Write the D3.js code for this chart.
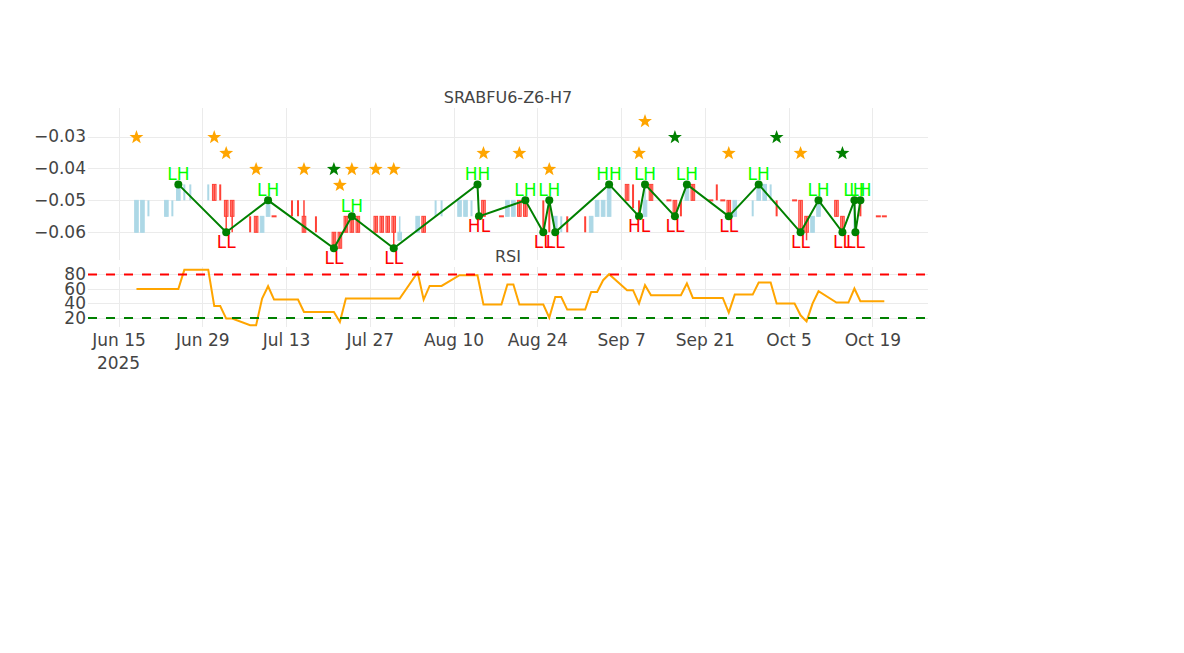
<!DOCTYPE html>
<html><head><meta charset="utf-8">
<script src="https://cdn.jsdelivr.net/npm/d3@7"></script>
<style>
body{margin:0;background:#fff}
svg{display:block}
text{font-family:"DejaVu Sans",Verdana,sans-serif}
</style>
</head><body>
<svg id="chart" width="1184" height="653"></svg>
<script>
// ---------- DATA ----------
const chartTitle = "SRABFU6-Z6-H7";
const rsiTitle = "RSI";

const candleDates = ["2025-06-18","2025-06-19","2025-06-20","2025-06-23","2025-06-24","2025-06-25","2025-06-26","2025-06-27",
"2025-06-30","2025-07-01","2025-07-02","2025-07-03","2025-07-04","2025-07-07","2025-07-08","2025-07-09","2025-07-10","2025-07-11",
"2025-07-14","2025-07-15","2025-07-16","2025-07-18","2025-07-21","2025-07-22","2025-07-23","2025-07-24","2025-07-25",
"2025-07-28","2025-07-29","2025-07-30","2025-07-31","2025-08-01","2025-08-04","2025-08-05","2025-08-07","2025-08-08",
"2025-08-11","2025-08-12","2025-08-13","2025-08-15","2025-08-18","2025-08-19","2025-08-20","2025-08-21","2025-08-22",
"2025-08-25","2025-08-26","2025-08-27","2025-08-28","2025-08-29","2025-09-01","2025-09-02","2025-09-03","2025-09-04","2025-09-05",
"2025-09-08","2025-09-09","2025-09-10","2025-09-11","2025-09-12","2025-09-15","2025-09-16","2025-09-17","2025-09-18","2025-09-19",
"2025-09-22","2025-09-23","2025-09-24","2025-09-25","2025-09-26","2025-09-29","2025-09-30","2025-10-01","2025-10-02","2025-10-03",
"2025-10-06","2025-10-07","2025-10-08","2025-10-09","2025-10-10","2025-10-13","2025-10-14","2025-10-16","2025-10-17",
"2025-10-20","2025-10-21"];
const candleOpen = [-0.06,-0.06,-0.05,-0.055,-0.05,-0.05,-0.045,-0.045,
-0.045,-0.045,-0.045,-0.05,-0.05,-0.055,-0.055,-0.06,-0.055,-0.055,
-0.05,-0.05,-0.055,-0.055,-0.06,-0.06,-0.055,-0.055,-0.055,
-0.055,-0.055,-0.055,-0.055,-0.0625,-0.06,-0.055,-0.05,-0.05,
-0.055,-0.055,-0.05,-0.05,-0.055,-0.055,-0.055,-0.05,-0.05,
-0.05,-0.05,-0.06,-0.055,-0.055,-0.055,-0.06,-0.055,-0.055,-0.055,
-0.045,-0.045,-0.05,-0.055,-0.045,-0.05,-0.05,-0.05,-0.05,-0.045,
-0.05,-0.045,-0.05,-0.05,-0.055,-0.05,-0.05,-0.05,-0.045,-0.05,
-0.05,-0.05,-0.055,-0.06,-0.055,-0.05,-0.055,-0.05,-0.05,
-0.055,-0.055];
const candleHigh = [-0.05,-0.05,-0.05,-0.05,-0.05,-0.045,-0.045,-0.045,
-0.045,-0.045,-0.045,-0.05,-0.05,-0.055,-0.055,-0.055,-0.05,-0.055,
-0.05,-0.05,-0.05,-0.055,-0.06,-0.06,-0.055,-0.055,-0.055,
-0.055,-0.055,-0.055,-0.055,-0.055,-0.055,-0.055,-0.05,-0.05,
-0.05,-0.05,-0.05,-0.05,-0.055,-0.05,-0.05,-0.05,-0.05,
-0.05,-0.05,-0.055,-0.055,-0.055,-0.055,-0.055,-0.05,-0.05,-0.045,
-0.045,-0.045,-0.05,-0.045,-0.045,-0.05,-0.05,-0.05,-0.045,-0.045,
-0.05,-0.045,-0.05,-0.05,-0.05,-0.05,-0.045,-0.045,-0.045,-0.05,
-0.05,-0.05,-0.055,-0.055,-0.05,-0.05,-0.055,-0.05,-0.05,
-0.055,-0.055];
const candleLow = [-0.06,-0.06,-0.055,-0.055,-0.055,-0.05,-0.05,-0.05,
-0.05,-0.05,-0.05,-0.06,-0.06,-0.06,-0.06,-0.06,-0.055,-0.055,
-0.055,-0.055,-0.06,-0.06,-0.065,-0.065,-0.06,-0.06,-0.06,
-0.06,-0.06,-0.06,-0.065,-0.0625,-0.06,-0.06,-0.055,-0.055,
-0.055,-0.055,-0.055,-0.055,-0.055,-0.055,-0.055,-0.055,-0.055,
-0.06,-0.06,-0.06,-0.06,-0.06,-0.06,-0.06,-0.055,-0.055,-0.055,
-0.05,-0.0525,-0.055,-0.055,-0.05,-0.05,-0.055,-0.055,-0.05,-0.05,
-0.05,-0.05,-0.05,-0.055,-0.055,-0.055,-0.05,-0.05,-0.05,-0.055,
-0.05,-0.06,-0.0625,-0.06,-0.055,-0.055,-0.06,-0.06,-0.055,
-0.055,-0.055];
const candleClose = [-0.05,-0.05,-0.05,-0.05,-0.05,-0.045,-0.045,-0.045,
-0.045,-0.05,-0.045,-0.055,-0.055,-0.055,-0.06,-0.055,-0.05,-0.055,
-0.05,-0.05,-0.06,-0.055,-0.065,-0.065,-0.06,-0.06,-0.06,
-0.06,-0.06,-0.06,-0.06,-0.06,-0.055,-0.06,-0.05,-0.05,
-0.05,-0.05,-0.05,-0.055,-0.055,-0.05,-0.05,-0.055,-0.055,
-0.05,-0.05,-0.055,-0.055,-0.055,-0.055,-0.055,-0.05,-0.05,-0.045,
-0.05,-0.045,-0.05,-0.05,-0.05,-0.05,-0.055,-0.05,-0.045,-0.05,
-0.05,-0.045,-0.05,-0.055,-0.05,-0.05,-0.045,-0.045,-0.045,-0.05,
-0.05,-0.06,-0.06,-0.055,-0.05,-0.055,-0.06,-0.05,-0.05,
-0.055,-0.055];
const candleDir = ["up","up","up","up","up","up","up","up",
"up","down","down","down","down","down","down","up","up","down",
"down","down","down","down","down","down","down","down","down",
"down","down","down","down","up","up","down","up","up",
"up","up","up","down","down","up","up","down","down",
"down","down","up","up","down","down","up","up","up","up",
"down","down","down","up","down","down","down","down","up","down",
"down","down","down","down","up","up","up","up","up","down",
"down","down","down","up","up","down","down","up","down",
"down","down"];

const pivotDates = ["2025-06-25","2025-07-03","2025-07-10","2025-07-21","2025-07-24","2025-07-31","2025-08-14","2025-08-14T06:00",
"2025-08-22","2025-08-25","2025-08-26","2025-08-27","2025-09-05","2025-09-10","2025-09-11","2025-09-16","2025-09-18","2025-09-25",
"2025-09-30","2025-10-07","2025-10-10","2025-10-14","2025-10-16","2025-10-16T04:00","2025-10-17"];
const pivotValues = [-0.045,-0.06,-0.05,-0.065,-0.055,-0.065,-0.045,-0.055,
-0.05,-0.06,-0.05,-0.06,-0.045,-0.055,-0.045,-0.055,-0.045,-0.055,
-0.045,-0.06,-0.05,-0.06,-0.05,-0.06,-0.05];
const pivotLabels = ["LH","LL","LH","LL","LH","LL","HH","HL",
"LH","LL","LH","LL","HH","HL","LH","LL","LH","LL",
"LH","LL","LH","LL","LH","LL","LH"];

const starDates = ["2025-06-18","2025-07-01","2025-07-03","2025-07-08","2025-07-16","2025-07-21","2025-07-22","2025-07-24",
"2025-07-28","2025-07-31","2025-08-15","2025-08-21","2025-08-26","2025-09-10","2025-09-11","2025-09-16","2025-09-25",
"2025-10-03","2025-10-07","2025-10-14"];
const starValues = [-0.03,-0.03,-0.035,-0.04,-0.04,-0.04,-0.045,-0.04,
-0.04,-0.04,-0.035,-0.035,-0.04,-0.035,-0.025,-0.03,-0.035,
-0.03,-0.035,-0.035];
const starKinds = ["orange","orange","orange","orange","orange","green","orange","orange",
"orange","orange","orange","orange","orange","orange","orange","green","orange",
"green","orange","green"];

const rsiDates = ["2025-06-18","2025-06-19","2025-06-20","2025-06-23","2025-06-24","2025-06-25","2025-06-26","2025-06-27",
"2025-06-30","2025-07-01","2025-07-02","2025-07-03","2025-07-04","2025-07-07","2025-07-08","2025-07-09","2025-07-10","2025-07-11",
"2025-07-14","2025-07-15","2025-07-16","2025-07-17","2025-07-18","2025-07-21","2025-07-22","2025-07-23","2025-07-24","2025-07-25",
"2025-07-28","2025-07-29","2025-07-30","2025-07-31","2025-08-01","2025-08-04","2025-08-05","2025-08-06","2025-08-07","2025-08-08",
"2025-08-11","2025-08-12","2025-08-13","2025-08-14","2025-08-15","2025-08-18","2025-08-19","2025-08-20","2025-08-21","2025-08-22",
"2025-08-25","2025-08-26","2025-08-27","2025-08-28","2025-08-29","2025-09-01","2025-09-02","2025-09-03","2025-09-04","2025-09-05",
"2025-09-08","2025-09-09","2025-09-10","2025-09-11","2025-09-12","2025-09-15","2025-09-16","2025-09-17","2025-09-18","2025-09-19",
"2025-09-22","2025-09-23","2025-09-24","2025-09-25","2025-09-26","2025-09-29","2025-09-30","2025-10-01","2025-10-02","2025-10-03",
"2025-10-06","2025-10-07","2025-10-08","2025-10-09","2025-10-10","2025-10-13","2025-10-14","2025-10-15","2025-10-16","2025-10-17",
"2025-10-20","2025-10-21"];
const rsiValues = [60,60,60,60,60,60,86.4,86.4,
86.4,36.6,36.6,19.2,19.2,10,10,46.8,63.8,45.4,
45.4,45.4,28.3,28.3,28.3,28.3,14.5,46.8,46.8,46.8,
46.8,46.8,46.8,46.8,46.8,82.8,45.4,64.2,64.2,64.2,
79,79,79,79,38.5,38.5,66.2,66.2,38.5,38.5,
38.5,20.5,49,49,31.6,31.6,56,56,72.1,80.4,
58.3,58.3,39.9,65.2,51.4,51.4,51.4,51.4,67.6,47.6,
47.6,47.6,47.6,27.5,52.3,52.3,68.9,68.9,68.9,39.9,
39.9,23.7,15.4,39.9,56.9,41.3,41.3,41.3,60.6,43.1,
43.1,43.1];

const priceTicks = [-0.06,-0.05,-0.04,-0.03];
const rsiTicks = [20,40,60,80];
const rsiOverbought = 80, rsiOversold = 20;
const xTickDates = ["2025-06-15","2025-06-29","2025-07-13","2025-07-27","2025-08-10","2025-08-24","2025-09-07","2025-09-21","2025-10-05","2025-10-19"];

// ---------- LAYOUT ----------
const P = s => new Date((s.length > 10 ? s : s + "T00:00") + ":00Z");
const svg = d3.select("#chart");
const L = 88, R = 928;
const topY0 = 108, topY1 = 260, rsiY0 = 267, rsiY1 = 327;
const DAY = 864e5;
const base = Date.UTC(2025, 5, 15);
const x = d3.scaleUtc().domain([new Date(base - 5.1 * DAY), new Date(base + 135.3 * DAY)]).range([L, R]);
const yP = d3.scaleLinear().domain([-0.06868, -0.02107]).range([topY1, topY0]);
const yR = d3.scaleLinear().domain([7.6, 90.3]).range([rsiY1, rsiY0]);
const FS = 17, GRID = "#ebebeb", TXT = "#444";

// gridlines
const g = svg.append("g");
xTickDates.forEach(d => {
  const xx = Math.round(x(P(d))) + 0.5;
  g.append("line").attr("x1", xx).attr("x2", xx).attr("y1", topY0).attr("y2", topY1).attr("stroke", GRID);
  g.append("line").attr("x1", xx).attr("x2", xx).attr("y1", rsiY0).attr("y2", rsiY1).attr("stroke", GRID);
});
priceTicks.forEach(v => {
  const yy = Math.round(yP(v)) + 0.5;
  g.append("line").attr("x1", L).attr("x2", R).attr("y1", yy).attr("y2", yy).attr("stroke", GRID);
});
rsiTicks.forEach(v => {
  const yy = Math.round(yR(v)) + 0.5;
  g.append("line").attr("x1", L).attr("x2", R).attr("y1", yy).attr("y2", yy).attr("stroke", GRID);
});

// axes
const ay = svg.append("g").attr("transform", `translate(${L - 2},0)`)
  .call(d3.axisLeft(yP).tickValues(priceTicks).tickFormat(d3.format(".2f")).tickSize(0).tickPadding(0));
const ar = svg.append("g").attr("transform", `translate(${L - 2},0)`)
  .call(d3.axisLeft(yR).tickValues(rsiTicks).tickSize(0).tickPadding(0));
const ax = svg.append("g").attr("transform", `translate(0,${rsiY1})`)
  .call(d3.axisBottom(x).tickValues(xTickDates.map(P)).tickFormat(d3.utcFormat("%b %-d")).tickSize(0).tickPadding(7));
[ay, ar, ax].forEach(a => {
  a.select(".domain").remove();
  a.selectAll("text").attr("font-size", FS).attr("fill", TXT).attr("font-family", '"DejaVu Sans",Verdana,sans-serif');
});
svg.append("text").attr("x", x(P(xTickDates[0]))).attr("y", 368.5).attr("text-anchor", "middle")
  .attr("font-size", FS).attr("fill", TXT).text("2025");

// candles
const cg = svg.append("g");
candleDates.forEach((d, i) => {
  const cx = x(P(d));
  const o = candleOpen[i], h = candleHigh[i], l = candleLow[i], c = candleClose[i];
  const up = candleDir[i] === "up";
  const stroke = up ? "#ADD8E6" : "#FF4136";
  const fill = up ? "#ADD8E6" : "rgba(255,65,54,0.5)";
  if (h === l) {
    cg.append("line").attr("x1", cx - 2.5).attr("x2", cx + 2.5).attr("y1", yP(h)).attr("y2", yP(h))
      .attr("stroke", stroke).attr("stroke-width", 2);
  } else if (o === c) {
    cg.append("line").attr("x1", cx).attr("x2", cx).attr("y1", yP(h)).attr("y2", yP(l))
      .attr("stroke", stroke).attr("stroke-width", 2);
  } else {
    cg.append("line").attr("x1", cx).attr("x2", cx).attr("y1", yP(h)).attr("y2", yP(l))
      .attr("stroke", stroke).attr("stroke-width", 1.5);
    const yt = yP(Math.max(o, c)), yb = yP(Math.min(o, c));
    cg.append("rect").attr("x", cx - 1.8).attr("width", 3.6).attr("y", yt).attr("height", yb - yt)
      .attr("fill", fill).attr("stroke", stroke).attr("stroke-width", 1);
  }
});

// zigzag
const piv = pivotDates.map((d, i) => ({ t: P(d), v: pivotValues[i], lab: pivotLabels[i] }));
svg.append("path").datum(piv).attr("fill", "none").attr("stroke", "green").attr("stroke-width", 2)
  .attr("d", d3.line().x(p => x(p.t)).y(p => yP(p.v)));
svg.append("g").selectAll("circle").data(piv).join("circle")
  .attr("cx", p => x(p.t)).attr("cy", p => yP(p.v)).attr("r", 4).attr("fill", "green");
svg.append("g").selectAll("text").data(piv).join("text")
  .attr("x", p => x(p.t))
  .attr("y", p => p.lab[1] === "H" ? yP(p.v) - 4.5 : yP(p.v) + 15.5)
  .attr("text-anchor", "middle").attr("font-size", FS)
  .attr("fill", p => p.lab[1] === "H" ? "#00ff00" : "#ff0000")
  .text(p => p.lab);

// stars
function starPath(R1, R2) {
  const pts = [];
  for (let k = 0; k < 10; k++) {
    const a = -Math.PI / 2 + k * Math.PI / 5;
    const r = k % 2 ? R2 : R1;
    pts.push([r * Math.cos(a), r * Math.sin(a)]);
  }
  return "M" + pts.map(p => p[0].toFixed(2) + "," + p[1].toFixed(2)).join("L") + "Z";
}
const sp = starPath(7.3, 3.0);
svg.append("g").selectAll("path").data(starDates).join("path")
  .attr("d", sp)
  .attr("transform", (d, i) => `translate(${x(P(d))},${yP(starValues[i]) + 0.8})`)
  .attr("fill", (d, i) => starKinds[i] === "green" ? "#008000" : "#FFA500");

// RSI
svg.append("path").datum(rsiDates.map((d, i) => [P(d), rsiValues[i]]))
  .attr("fill", "none").attr("stroke", "#FFA500").attr("stroke-width", 2)
  .attr("d", d3.line().x(p => x(p[0])).y(p => yR(p[1])));
svg.append("line").attr("x1", L).attr("x2", R).attr("y1", yR(rsiOverbought)).attr("y2", yR(rsiOverbought))
  .attr("stroke", "red").attr("stroke-width", 2).attr("stroke-dasharray", "9,9");
svg.append("line").attr("x1", L).attr("x2", R).attr("y1", yR(rsiOversold)).attr("y2", yR(rsiOversold))
  .attr("stroke", "green").attr("stroke-width", 2).attr("stroke-dasharray", "9,9");

// titles
svg.append("text").attr("x", (L + R) / 2).attr("y", 102.7).attr("text-anchor", "middle")
  .attr("font-size", 16).attr("fill", TXT).text(chartTitle);
svg.append("text").attr("x", (L + R) / 2).attr("y", 261.5).attr("text-anchor", "middle")
  .attr("font-size", 16).attr("fill", TXT).text(rsiTitle);
</script>
</body></html>
